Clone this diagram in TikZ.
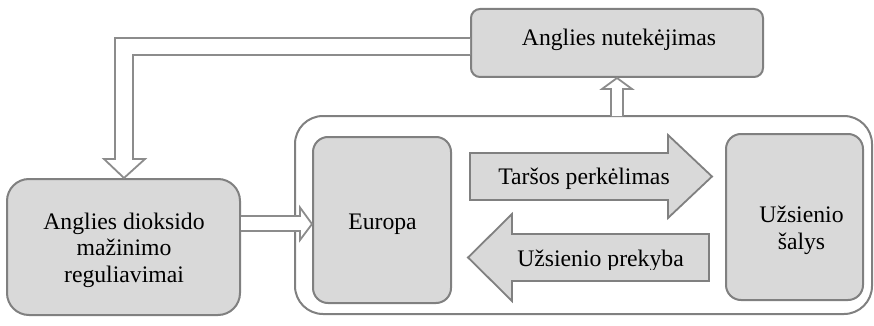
\documentclass[tikz,border=0pt]{standalone}
\usepackage{fontspec}
\setmainfont{Liberation Serif}
\usetikzlibrary{calc}
\definecolor{boxfill}{HTML}{D9D9D9}
\definecolor{edge}{HTML}{808080}
\definecolor{hollowedge}{HTML}{8C8C8C}

\begin{document}
\begin{tikzpicture}[x=1pt,y=-1pt,
  box/.style={draw=edge, fill=boxfill, line width=2pt, inner sep=0pt},
  lbl/.style={font=\fontsize{23.7}{27}\selectfont, align=center, inner sep=0pt},
  hollow/.style={draw=hollowedge, fill=white, line width=1.8pt, line join=miter},
  blockarrow/.style={draw=edge, fill=boxfill, line width=1.8pt, line join=miter}]
\useasboundingbox (0,0) rectangle (874,326);

% outer frame grouping Europe and foreign countries
\node[box, fill=white, rounded corners=28pt, minimum width=577pt, minimum height=198pt] (frame) at (583.5,215) {};

% inner boxes
\node[box, rounded corners=15pt, minimum width=138pt, minimum height=166pt] (eu) at (382,220) {};
\node[lbl] (eutxt) at (382.5,224.7) {Europa};
\node[box, rounded corners=15pt, minimum width=137pt, minimum height=166pt] (abroad) at (794.5,217) {};
\node[lbl] (abroadtxt) at (801.5,230) {Užsienio\\šalys};

% block arrows between Europe and the foreign countries
\draw[blockarrow] (470,153) -- (668,153) -- (668,135) -- (712,176.5) -- (668,218) -- (668,200) -- (470,200) -- cycle;
\node[lbl] (shift) at (584,178.5) {Taršos perkėlimas};
\draw[blockarrow] (709,234) -- (512,234) -- (512,214) -- (468,257.5) -- (512,301) -- (512,281) -- (709,281) -- cycle;
\begin{scope}
  \clip (480,220) rectangle (705,269.5);
  \node[lbl] (trade) at (600.5,260.5) {Užsienio prekyba};
\end{scope}

% top and left boxes
\node[box, rounded corners=9pt, minimum width=292pt, minimum height=68pt] (leak) at (617,43) {};
\node[lbl] (leaktxt) at (619,39.5) {Anglies nutekėjimas};
\node[box, rounded corners=22pt, minimum width=233pt, minimum height=136pt] (policy) at (123.5,247) {};
\node[lbl, font=\fontsize{23.7}{26.5}\selectfont] (policytxt) at (124,250) {Anglies dioksido\\mažinimo\\reguliavimai};

% hollow arrows
\draw[hollow] (leak.west |- 0,38) -- (115,38) -- (115,159) -- (104,159)
  -- ($(policy.north)+(0.5,0)$) -- (145,159) -- (133,159) -- (133,55) -- (leak.west |- 0,55);
\draw[hollow] (611,116) -- (611,89) -- (602,89) -- (leak.south) -- (632,89) -- (623,89) -- (623,116);
\draw[hollow] (policy.east |- 0,216) -- (300,216) -- (300,207.5) -- (eu.west |- 0,224)
  -- (300,240) -- (300,231) -- (policy.east |- 0,231);
\end{tikzpicture}
\end{document}
